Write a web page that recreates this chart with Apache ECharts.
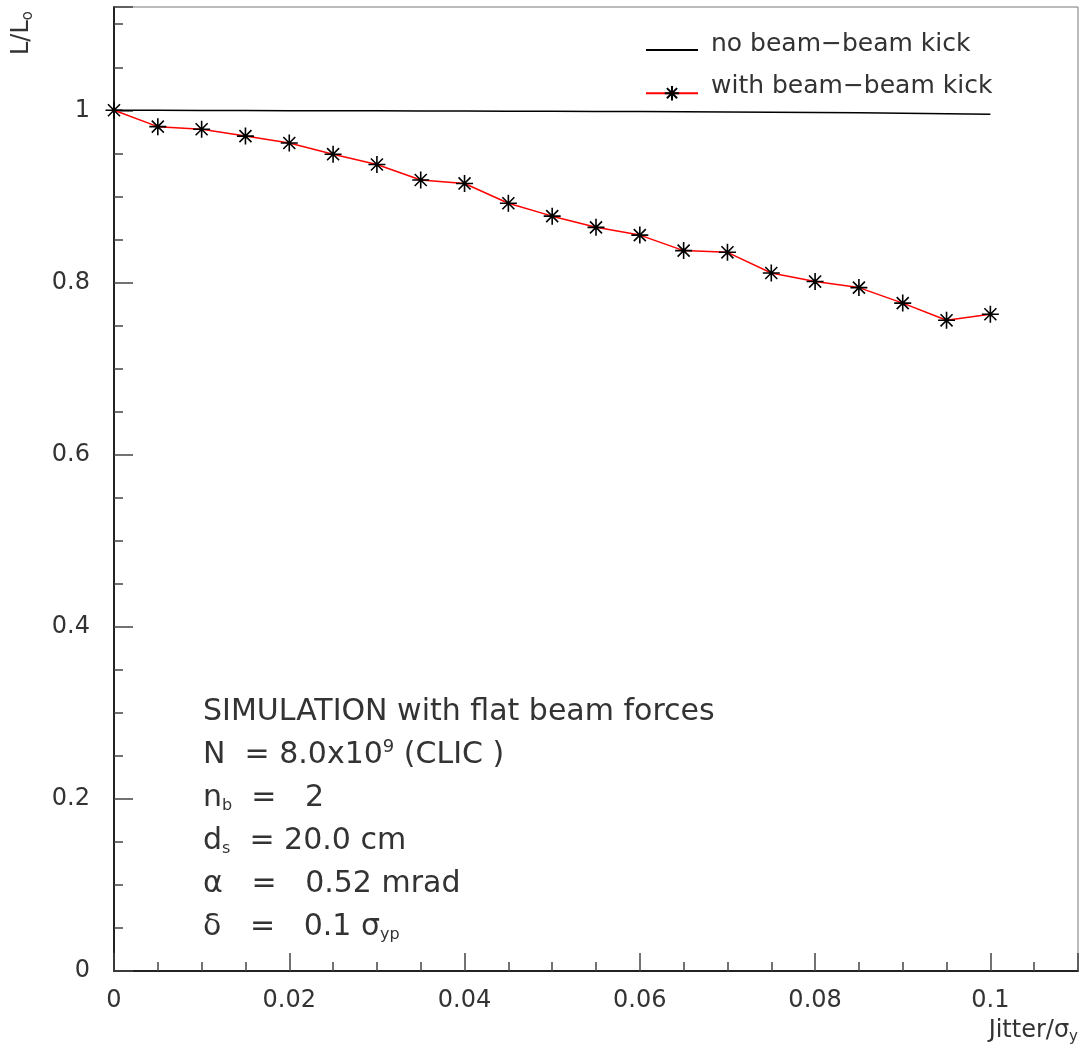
<!DOCTYPE html>
<html>
<head>
<meta charset="utf-8">
<title>L/L0 vs jitter</title>
<script src="https://cdn.jsdelivr.net/npm/echarts@6/dist/echarts.min.js"></script>
<style>
  html, body { margin: 0; padding: 0; background: #fff; }
  #chart { width: 1087px; height: 1050px; }
</style>
</head>
<body>
<div id="chart"></div>
<script>
  // jitter in units of sigma_y
  var jitter = [0, 0.005, 0.01, 0.015, 0.02, 0.025, 0.03, 0.035, 0.04, 0.045, 0.05,
    0.055, 0.06, 0.065, 0.07, 0.075, 0.08, 0.085, 0.09, 0.095, 0.1];
  // L/L0 without beam-beam kick
  var lumiNoKick = [1.0, 1.0, 0.9998, 0.9997, 0.9996, 0.9995, 0.9994, 0.9993, 0.9992, 0.999, 0.9988,
    0.9986, 0.9985, 0.9983, 0.998, 0.9977, 0.9974, 0.997, 0.9966, 0.9961, 0.9955];
  // L/L0 with beam-beam kick
  var lumiKick = [1.0, 0.981, 0.978, 0.970, 0.962, 0.949, 0.937, 0.919, 0.915, 0.892, 0.877,
    0.864, 0.855, 0.837, 0.835, 0.811, 0.801, 0.794, 0.776, 0.756, 0.763];

  var xRange = [0, 0.11];
  var yRange = [0, 1.12];
  var xTickLabels = ['0', '0.02', '0.04', '0.06', '0.08', '0.1'];
  var yTickLabels = ['0', '0.2', '0.4', '0.6', '0.8', '1'];

  var seriesNames = ['no beam\u2212beam kick', 'with beam\u2212beam kick'];
  var infoLines = [
    'SIMULATION with flat beam forces',
    'N  = 8.0x10{sup|9} (CLIC )',
    'n{sub|b}  =   2',
    'd{sub|s}  = 20.0 cm',
    '\u03b1   =   0.52 mrad',
    '\u03b4   =   0.1 \u03c3{sub|yp}'
  ];

  var FONT = 'DejaVu Sans';
  var TXT = '#333';
  var asterisk = 'path://M0,-8L0,8M-8,0L8,0M-5.66,-5.66L5.66,5.66M-5.66,5.66L5.66,-5.66';

  function pairs(xs, ys) {
    return xs.map(function (x, i) { return [x, ys[i]]; });
  }

  function tickLabel(list) {
    return function (v) {
      var hit = list.filter(function (s) { return Math.abs(parseFloat(s) - v) < 1e-9; });
      return hit.length ? hit[0] : '';
    };
  }

  var infoGraphics = infoLines.map(function (line, i) {
    return {
      type: 'text',
      x: 203,
      y: 712 + i * 43,
      style: {
        text: line,
        font: '30px "' + FONT + '"',
        fill: TXT,
        verticalAlign: 'middle',
        rich: {
          sup: { fontSize: 18, fontFamily: FONT, fill: TXT, verticalAlign: 'top', lineHeight: 34 },
          sub: { fontSize: 16, fontFamily: FONT, fill: TXT, verticalAlign: 'bottom', lineHeight: 32 }
        }
      }
    };
  });

  var chart = echarts.init(document.getElementById('chart'));

  chart.setOption({
    animation: false,
    backgroundColor: '#fff',
    grid: {
      left: 114, right: 9, top: 7, bottom: 79,
      show: true, borderColor: '#777', borderWidth: 1
    },
    // icons and texts are two legends so the sample line can sit lower than the text
    legend: [{
      orient: 'vertical',
      left: 640,
      top: 36,
      itemWidth: 52,
      itemHeight: 18,
      itemGap: 27,
      data: [
        { name: seriesNames[0], itemStyle: { color: 'rgba(0,0,0,0)', borderWidth: 0 } },
        { name: seriesNames[1] }
      ],
      formatter: function () { return ''; },
      textStyle: { fontSize: 1 }
    }, {
      orient: 'vertical',
      left: 700,
      top: 27,
      itemWidth: 0,
      itemHeight: 1,
      itemGap: 17,
      icon: 'rect',
      data: seriesNames,
      itemStyle: { opacity: 0 },
      lineStyle: { opacity: 0 },
      textStyle: { fontFamily: FONT, fontSize: 25, lineHeight: 24, color: TXT }
    }],
    xAxis: [{
      type: 'value', min: xRange[0], max: xRange[1], interval: 0.02,
      axisLine: { lineStyle: { color: '#222', width: 2 } },
      axisTick: { inside: true, length: 18, lineStyle: { color: '#444', width: 1.5 } },
      axisLabel: { formatter: tickLabel(xTickLabels), fontFamily: FONT, fontSize: 24, color: TXT, margin: 18 },
      splitLine: { show: false }
    }, {
      type: 'value', min: xRange[0], max: xRange[1], interval: 0.005, position: 'bottom',
      axisLine: { show: false },
      axisTick: { inside: true, length: 9, lineStyle: { color: '#444', width: 1.5 } },
      axisLabel: { show: false },
      splitLine: { show: false }
    }],
    yAxis: [{
      type: 'value', min: yRange[0], max: yRange[1], interval: 0.2,
      axisLine: { lineStyle: { color: '#222', width: 2 } },
      axisTick: { inside: true, length: 19, lineStyle: { color: '#444', width: 1.5 } },
      axisLabel: { formatter: tickLabel(yTickLabels), fontFamily: FONT, fontSize: 24, color: TXT, margin: 24 },
      splitLine: { show: false }
    }, {
      type: 'value', min: yRange[0], max: yRange[1], interval: 0.05, position: 'left',
      axisLine: { show: false },
      axisTick: { inside: true, length: 9, lineStyle: { color: '#444', width: 1.5 } },
      axisLabel: { show: false },
      splitLine: { show: false }
    }],
    series: [{
      name: seriesNames[0],
      type: 'line',
      data: pairs(jitter, lumiNoKick),
      symbol: 'none',
      lineStyle: { color: '#000', width: 1.5 },
      itemStyle: { color: '#000' },
      z: 3
    }, {
      name: seriesNames[1],
      type: 'line',
      data: pairs(jitter, lumiKick),
      symbol: asterisk,
      symbolSize: 17,
      showAllSymbol: true,
      lineStyle: { color: '#ff0000', width: 1.5 },
      itemStyle: { color: '#000', borderColor: '#000', borderWidth: 1.6 },
      z: 4
    }],
    graphic: infoGraphics.concat([{
      type: 'text',
      right: 9,
      top: 1019,
      style: {
        text: 'Jitter/\u03c3{sub|y}',
        font: '24px "' + FONT + '"',
        fill: TXT,
        rich: { sub: { fontSize: 15, fontFamily: FONT, fill: TXT, verticalAlign: 'bottom', lineHeight: 28 } }
      }
    }, {
      type: 'text',
      x: 22,
      y: 33,
      rotation: Math.PI / 2,
      style: {
        text: 'L/L{sub|o}',
        font: '24px "' + FONT + '"',
        fill: TXT,
        align: 'center',
        verticalAlign: 'middle',
        rich: { sub: { fontSize: 15, fontFamily: FONT, fill: TXT, verticalAlign: 'bottom', lineHeight: 28 } }
      }
    }])
  });

  window.addEventListener('resize', function () { chart.resize(); });
</script>
</body>
</html>
